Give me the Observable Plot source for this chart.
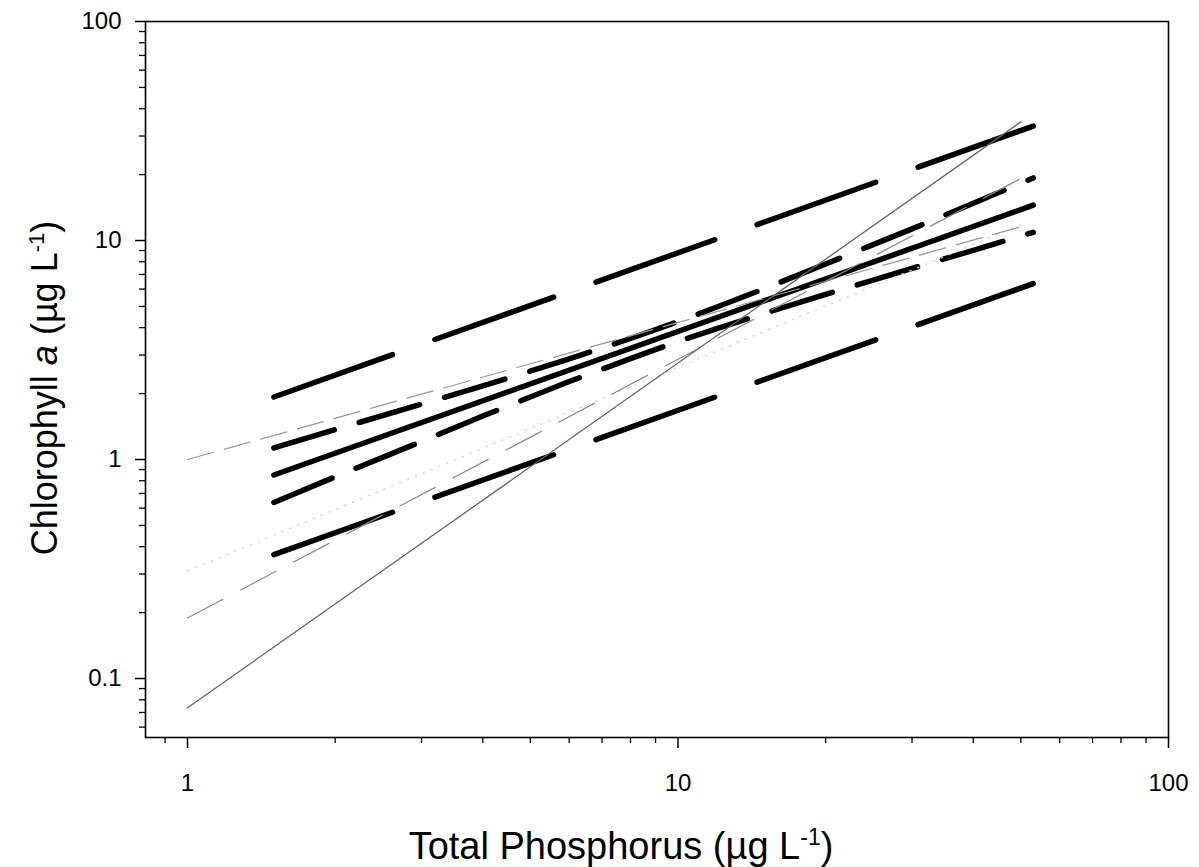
<!DOCTYPE html>
<html>
<head>
<meta charset="utf-8">
<script src="https://cdn.jsdelivr.net/npm/d3@7"></script>
<script src="https://cdn.jsdelivr.net/npm/@observablehq/plot@0.6"></script>
<style>
  html, body { margin: 0; padding: 0; background: #fff; }
  #chart svg { display: block; }
</style>
</head>
<body>
<div id="chart"></div>
<script>
// ---- Data ----
// Fitted regression (solid thick) and prediction interval (long dashes)
const fitTP        = [1.5, 53];
const fitChl       = [0.85, 14.5];
const predUpperChl = [1.93, 33.3];
const predLowerChl = [0.368, 6.36];

// Confidence band of the fit (medium dashes)
const bandTP       = [1.5, 2, 3, 4, 5, 6, 8, 10, 12, 15, 20, 25, 30, 40, 53];
const confUpperChl = [1.13, 1.37, 1.79, 2.17, 2.53, 2.88, 3.57, 4.26, 4.97, 6.03, 7.81, 9.58, 11.3, 14.8, 19.3];
const confLowerChl = [0.637, 0.834, 1.21, 1.58, 1.93, 2.27, 2.89, 3.46, 3.96, 4.65, 5.68, 6.60, 7.46, 9.02, 10.9];

// Published relationships (thin grey lines)
const litTP        = [1, 50];
const litShortDash = [1.0, 11.55];
const litLongDash  = [0.189, 19.2];
const litSolid     = [0.0735, 34.8];
const litDotted    = [0.31, 11.8];

// Axis ticks
const xMajor = [1, 10, 100];
const xMinor = [0.9, 2, 3, 4, 5, 6, 7, 8, 9, 20, 30, 40, 50, 60, 70, 80, 90];
const yMajor = [0.1, 1, 10, 100];
const yMinor = [0.06, 0.07, 0.08, 0.09, 0.2, 0.3, 0.4, 0.5, 0.6, 0.7, 0.8, 0.9,
                2, 3, 4, 5, 6, 7, 8, 9, 20, 30, 40, 50, 60, 70, 80, 90];

const pts = (xs, ys) => xs.map((x, i) => [x, ys[i]]);

const thick = {stroke: "#000", strokeWidth: 5.5, strokeLinecap: "round"};

const chart = Plot.plot({
  width: 1199,
  height: 867,
  marginLeft: 145,
  marginRight: 31,
  marginTop: 21,
  marginBottom: 130,
  style: {fontFamily: "'Liberation Sans', Arial, sans-serif", fontSize: "24px", color: "#000", background: "#fff"},
  x: {type: "log", domain: [0.821, 100], label: null},
  y: {type: "log", domain: [0.0538, 100], label: null},
  marks: [
    // thick fitted lines
    Plot.line(pts(fitTP, predUpperChl), {...thick, strokeDasharray: "126,45"}),
    Plot.line(pts(fitTP, predLowerChl), {...thick, strokeDasharray: "126,45"}),
    Plot.line(pts(fitTP, fitChl), {...thick}),
    Plot.line(pts(bandTP, confUpperChl), {...thick, strokeDasharray: "63,26"}),
    Plot.line(pts(bandTP, confLowerChl), {...thick, strokeDasharray: "63,26"}),
    // thin literature lines
    Plot.line(pts(litTP, litDotted), {stroke: "#d2d2d2", strokeWidth: 1.3, strokeDasharray: "1.5,7"}),
    Plot.line(pts(litTP, litShortDash), {stroke: "#999", strokeWidth: 1.2, strokeDasharray: "27,11"}),
    Plot.line(pts(litTP, litLongDash), {stroke: "#8a8a8a", strokeWidth: 1.2, strokeDasharray: "40,20"}),
    Plot.line(pts(litTP, litSolid), {stroke: "#666", strokeWidth: 1.3}),
    // axes
    Plot.axisX({ticks: xMajor, tickSize: 11, tickPadding: 25, tickFormat: d => String(d), fontSize: 24, strokeWidth: 1.5, label: null}),
    Plot.axisX({ticks: xMinor, tickSize: 6, tickFormat: () => "", strokeWidth: 1.3, label: null}),
    Plot.axisY({ticks: yMajor, tickSize: 10, tickPadding: 14, tickFormat: d => String(d), fontSize: 24, strokeWidth: 1.5, label: null}),
    Plot.axisY({ticks: yMinor, tickSize: 6, tickFormat: () => "", strokeWidth: 1.3, label: null}),
    Plot.frame({stroke: "#000", strokeWidth: 1.6})
  ]
});

document.getElementById("chart").appendChild(chart);

// Axis titles (with superscript and italic parts)
const svg = d3.select(chart);
const fontFam = "'Liberation Sans', Arial, sans-serif";

const xt = svg.append("text")
  .attr("x", 621).attr("y", 859)
  .attr("text-anchor", "middle")
  .attr("font-family", fontFam).attr("font-size", 38).attr("fill", "#000");
xt.append("tspan").text("Total Phosphorus (\u00B5g L");
xt.append("tspan").attr("dy", -14).attr("font-size", 23).text("-1");
xt.append("tspan").attr("dy", 14).text(")");

const yt = svg.append("text")
  .attr("transform", "translate(57,388) rotate(-90)")
  .attr("text-anchor", "middle")
  .attr("font-family", fontFam).attr("font-size", 36).attr("fill", "#000");
yt.append("tspan").text("Chlorophyll ");
yt.append("tspan").attr("font-style", "italic").text("a");
yt.append("tspan").text(" (\u00B5g L");
yt.append("tspan").attr("dy", -13).attr("font-size", 22).text("-1");
yt.append("tspan").attr("dy", 13).text(")");
</script>
</body>
</html>
